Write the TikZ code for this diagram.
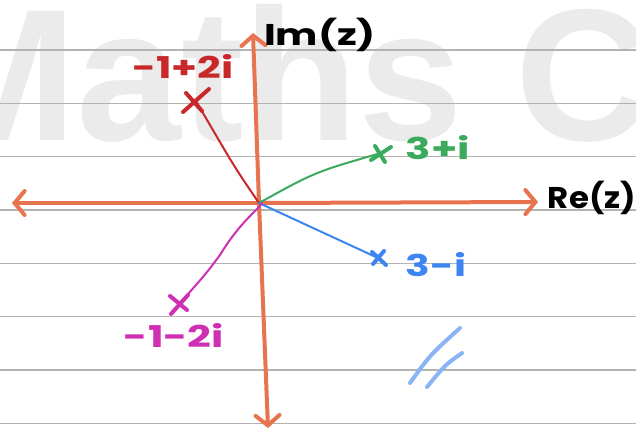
\documentclass[tikz,border=0pt]{standalone}
\usepackage{fontspec}
\usepackage{graphicx}
\setmainfont{Poppins}
\newfontfamily\wmfont{Liberation Sans}
\usetikzlibrary{arrows.meta}
\definecolor{axisc}{HTML}{E8744F}
\definecolor{redc}{HTML}{C8282A}
\definecolor{greenc}{HTML}{3BAA5C}
\definecolor{bluec}{HTML}{3D85F0}
\definecolor{magc}{HTML}{CF2FB3}
\definecolor{lbluec}{HTML}{8AB4F5}
\definecolor{rulec}{HTML}{B3B3B3}
\definecolor{wmc}{HTML}{EBEBEB}
\newcommand\hwx[2]{\scalebox{#1}[1]{#2}}
\tikzset{
  rule/.style={draw=rulec, line width=1.3pt},
  axis/.style={draw=axisc, line width=4pt, line cap=round,
    -{Straight Barb[length=10pt,width=24pt,line cap=round]}},
  vec/.style={line width=2pt, line cap=round},
  crossline/.style={line width=4pt, line cap=round},
  hand/.style={font=\fontsize{30}{30}\selectfont\bfseries, inner sep=0pt},
}
\begin{document}
\begin{tikzpicture}[x=1pt,y=-1pt]
\useasboundingbox (0,0) rectangle (636,432);
\fill[white] (0,0) rectangle (636,432);
% watermark
\node[anchor=base west, inner sep=0pt, text=wmc, font=\wmfont\bfseries\fontsize{188}{188}\selectfont] (wm) at (-80,140) {Maths C};
% ruled lines
\foreach \k in {0,...,7}{
  \draw[rule] (0,{50+53.33*\k}) -- (636,{50+53.33*\k});
}
% coordinates
\coordinate (O) at (259,203);
\coordinate (L) at (12,203);
\coordinate (R) at (538,202);
\coordinate (T) at (253,33);
\coordinate (B) at (268,428);
\coordinate (A) at (196,101);
\coordinate (G) at (381,153);
\coordinate (Bl) at (378,258);
\coordinate (M) at (179,304);
% axes
\draw[axis] (O) -- (L);
\draw[axis] (O) -- (R);
\draw[axis] (O) -- (T);
\draw[axis] (O) -- (B);
% vectors
\draw[vec, redc] (O) .. controls (235,168) .. (A);
\draw[vec, greenc] (O) .. controls (315,172) .. (G);
\draw[vec, bluec] (O) -- (Bl);
\draw[vec, magc] (262,203) .. controls (256,212) and (240,222) .. (220,255) .. controls (205,275) .. (M);
% crosses
\draw[crossline, redc] ([shift={(-13,11)}]A) -- ([shift={(13,-12)}]A) ([shift={(-10,-8)}]A) -- ([shift={(6,10)}]A);
\draw[crossline, greenc] ([shift={(-10,7)}]G) -- ([shift={(10,-6)}]G) ([shift={(-6,-7)}]G) -- ([shift={(4,9)}]G);
\draw[crossline, bluec] ([shift={(-6,-6)}]Bl) -- ([shift={(8,7)}]Bl) ([shift={(-5,6)}]Bl) -- ([shift={(6,-7)}]Bl);
\draw[crossline, magc] ([shift={(-9,-8)}]M) -- ([shift={(8,6)}]M) ([shift={(-8,10)}]M) -- ([shift={(9,-9)}]M);
% labels
\node[hand, text=black] (im) at (320,35) {\hwx{1.33}{Im(z)}};
\node[hand, text=black] (re) at (592,198) {\hwx{1.08}{Re(z)}};
\node[hand, text=redc] (la) at (183,66) {\hwx{1.38}{-1+2i}};
\node[hand, text=greenc] (lg) at (438,148) {\hwx{1.4}{3+i}};
\node[hand, text=bluec] (lb) at (436,265) {\hwx{1.36}{3-i}};
\node[hand, text=magc] (lm) at (174,335) {\hwx{1.39}{-1-2i}};
% double slash
\draw[line width=4pt, lbluec, line cap=round] (410,383) .. controls (430,355) .. (460,328);
\draw[line width=4pt, lbluec, line cap=round] (427,387) .. controls (445,365) .. (462,353);
\end{tikzpicture}
\end{document}
